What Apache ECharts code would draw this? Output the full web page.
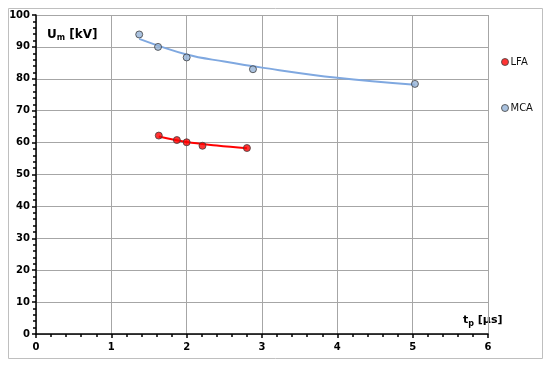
<!DOCTYPE html>
<html>
<head>
<meta charset="utf-8">
<script src="https://cdn.jsdelivr.net/npm/echarts@6/dist/echarts.min.js"></script>
<style>html,body{margin:0;padding:0;background:#fff;}#c{width:550px;height:366px;}</style>
</head>
<body>
<div id="c"></div>
<script>
// Measured points
var lfaX = [1.63, 1.87, 2.0, 2.21, 2.80];
var lfaY = [62.2, 60.8, 60.1, 59.0, 58.3];
var mcaX = [1.37, 1.62, 2.0, 2.88, 5.03];
var mcaY = [93.9, 90.0, 86.7, 83.0, 78.4];
// Trend curves
var lfaTrendX = [1.63, 2.0, 2.4, 2.80];
var lfaTrendY = [61.9, 60.2, 59.1, 58.2];
var mcaTrendX = [1.37, 2.0, 2.5, 3.0, 4.0, 5.03];
var mcaTrendY = [92.5, 87.6, 85.4, 83.5, 80.3, 78.1];
// Axes
var xTicks = [0, 1, 2, 3, 4, 5, 6];
var yTicks = [0, 10, 20, 30, 40, 50, 60, 70, 80, 90, 100];
var seriesNames = ['LFA', 'MCA'];

function pairs(xs, ys) { return xs.map(function (x, i) { return [x, ys[i]]; }); }

var chart = echarts.init(document.getElementById('c'), null, {renderer: 'canvas'});
var axisLabelStyle = {color: '#000', fontFamily: 'DejaVu Sans', fontWeight: 'bold', fontSize: 10};
chart.setOption({
  animation: false,
  backgroundColor: '#fff',
  grid: {left: 36, right: 62, top: 15, bottom: 32, containLabel: false},
  xAxis: {
    type: 'value', min: xTicks[0], max: xTicks[xTicks.length - 1], interval: 1,
    axisLine: {show: true, lineStyle: {color: '#000', width: 1.5}},
    axisTick: {show: true, length: 4, lineStyle: {color: '#000', width: 1.5}},
    minorTick: {show: true, splitNumber: 5, length: 3, lineStyle: {color: '#000', width: 1.5}},
    splitLine: {show: true, lineStyle: {color: '#a6a6a6', width: 1}},
    axisLabel: Object.assign({margin: 8}, axisLabelStyle)
  },
  yAxis: {
    type: 'value', min: yTicks[0], max: yTicks[yTicks.length - 1], interval: 10,
    axisLine: {show: true, lineStyle: {color: '#000', width: 1.5}},
    axisTick: {show: true, length: 4, lineStyle: {color: '#000', width: 1.5}},
    minorTick: {show: true, splitNumber: 5, length: 3, lineStyle: {color: '#000', width: 1.5}},
    splitLine: {show: true, lineStyle: {color: '#a6a6a6', width: 1}},
    axisLabel: Object.assign({margin: 6}, axisLabelStyle)
  },
  legend: {
    orient: 'vertical', left: 496, top: 52, itemGap: 36,
    itemWidth: 7, itemHeight: 7,
    textStyle: {fontFamily: 'DejaVu Sans', fontSize: 10, color: '#111', padding: [0, 0, 0, -3]},
    data: [
      {name: seriesNames[0], icon: 'circle', itemStyle: {color: '#ff0000', borderColor: '#404040', borderWidth: 1}},
      {name: seriesNames[1], icon: 'circle', itemStyle: {color: '#95b3d7', borderColor: '#404040', borderWidth: 1}}
    ]
  },
  graphic: [
    {type: 'rect', shape: {x: 8.5, y: 8.5, width: 534, height: 350}, style: {fill: 'none', stroke: '#bfbfbf', lineWidth: 1}, z: -1},
    {type: 'text', left: 47, top: 29, style: {
      text: '{a|U}{s|m}{a| [kV]}',
      rich: {a: {fontFamily: 'DejaVu Sans', fontWeight: 'bold', fontSize: 12, fill: '#000'},
             s: {fontFamily: 'DejaVu Sans', fontWeight: 'bold', fontSize: 8, fill: '#000', verticalAlign: 'bottom', padding: [6, 0, 0, 0]}}
    }},
    {type: 'text', left: 463, top: 315, style: {
      text: '{a|t}{s|p}{a| [µs]}',
      rich: {a: {fontFamily: 'DejaVu Sans', fontWeight: 'bold', fontSize: 11, fill: '#000'},
             s: {fontFamily: 'DejaVu Sans', fontWeight: 'bold', fontSize: 8, fill: '#000', verticalAlign: 'bottom', padding: [6, 0, 0, 0]}}
    }}
  ],
  series: [
    {name: 'LFA trend', type: 'line', data: pairs(lfaTrendX, lfaTrendY), smooth: 0.4, showSymbol: false, symbol: 'none',
     lineStyle: {color: '#ff0000', width: 2}, silent: true, z: 2},
    {name: 'MCA trend', type: 'line', data: pairs(mcaTrendX, mcaTrendY), smooth: 0.4, showSymbol: false, symbol: 'none',
     lineStyle: {color: '#7fa8e0', width: 2}, silent: true, z: 2},
    {name: seriesNames[0], type: 'scatter', data: pairs(lfaX, lfaY), symbol: 'circle', symbolSize: 7,
     itemStyle: {color: '#ff0000', borderColor: '#404040', borderWidth: 1}, z: 3},
    {name: seriesNames[1], type: 'scatter', data: pairs(mcaX, mcaY), symbol: 'circle', symbolSize: 7,
     itemStyle: {color: '#95b3d7', borderColor: '#404040', borderWidth: 1}, z: 3}
  ]
});
</script>
</body>
</html>
